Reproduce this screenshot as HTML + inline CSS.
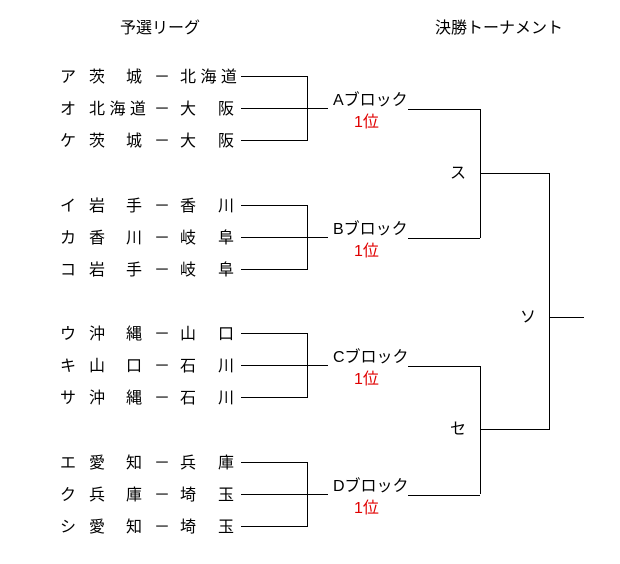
<!DOCTYPE html>
<html><head><meta charset="utf-8"><style>
body{margin:0;width:620px;height:564px;background:#fff;position:relative;overflow:hidden;font-family:"Liberation Sans","Noto Sans CJK JP",sans-serif;font-size:16px;color:#000}
.t{position:absolute;line-height:18px;white-space:nowrap}
.j{position:absolute;line-height:18px;text-align:justify;text-align-last:justify;white-space:nowrap}
.r{color:#e00000}
.l{position:absolute;background:#000}
</style></head><body>
<div class="t" style="left:120px;top:20px">予選リーグ</div>
<div class="t" style="left:435px;top:20px">決勝トーナメント</div>
<div id="rows"></div>
<script>
const rows=[
["ア","茨城","北海道"],["オ","北海道","大阪"],["ケ","茨城","大阪"],
["イ","岩手","香川"],["カ","香川","岐阜"],["コ","岩手","岐阜"],
["ウ","沖縄","山口"],["キ","山口","石川"],["サ","沖縄","石川"],
["エ","愛知","兵庫"],["ク","兵庫","埼玉"],["シ","愛知","埼玉"]];
const ys=[76,108,140,205,237,269,333,365,397,462,494,526];
let h="";
rows.forEach((r,i)=>{const y=ys[i]-7;
h+=`<div class="t" style="left:60px;top:${y}px">${r[0]}</div>`;
h+=`<div class="j" style="left:89px;top:${y}px;width:53px">${r[1].split('').join(' ')}</div>`;
h+=`<div class="t" style="left:154px;top:${y}px">－</div>`;
h+=`<div class="j" style="left:180px;top:${y}px;width:54px">${r[2].split('').join(' ')}</div>`;
h+=`<div class="l" style="left:241px;top:${ys[i]}px;width:66px;height:1px"></div>`;
});
const bl=["A","B","C","D"];
for(let g=0;g<4;g++){const a=ys[g*3],m=ys[g*3+1],c=ys[g*3+2];
h+=`<div class="l" style="left:307px;top:${a}px;width:1px;height:${c-a+1}px"></div>`;
h+=`<div class="l" style="left:307px;top:${m}px;width:21px;height:1px"></div>`;
h+=`<div class="t" style="left:333px;top:${m-16}px">${bl[g]}ブロック</div>`;
h+=`<div class="t r" style="left:354px;top:${m+6}px">1位</div>`;
h+=`<div class="l" style="left:408px;top:${m+1}px;width:72px;height:1px"></div>`;
}
h+=`<div class="l" style="left:480px;top:109px;width:1px;height:129px"></div>`;
h+=`<div class="l" style="left:480px;top:366px;width:1px;height:128px"></div>`;
h+=`<div class="l" style="left:480px;top:173px;width:69px;height:1px"></div>`;
h+=`<div class="l" style="left:480px;top:429px;width:69px;height:1px"></div>`;
h+=`<div class="l" style="left:549px;top:173px;width:1px;height:257px"></div>`;
h+=`<div class="l" style="left:549px;top:317px;width:35px;height:1px"></div>`;
h+=`<div class="t" style="left:450px;top:165px">ス</div>`;
h+=`<div class="t" style="left:450px;top:421px">セ</div>`;
h+=`<div class="t" style="left:520px;top:309px">ソ</div>`;
document.getElementById("rows").innerHTML=h;
</script>
</body></html>
